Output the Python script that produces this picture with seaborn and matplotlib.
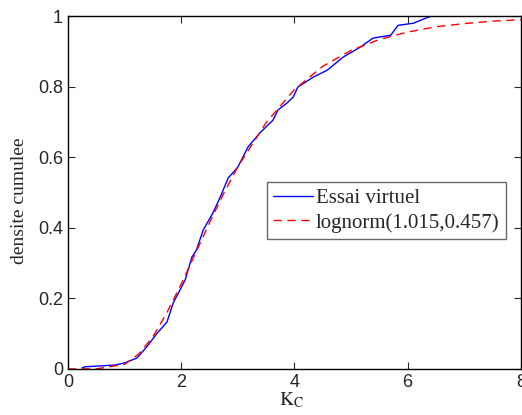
import numpy as np
import pandas as pd
import matplotlib
matplotlib.use("Agg")
import matplotlib.pyplot as plt
import seaborn as sns

essai_x = [0.25, 0.30, 0.83, 1.00, 1.22, 1.39, 1.57, 1.75, 1.86, 2.07, 2.19, 2.27,
           2.39, 2.56, 2.69, 2.83, 3.00, 3.18, 3.39, 3.62, 3.71, 3.87, 3.98, 4.06,
           4.33, 4.58, 4.86, 5.16, 5.39, 5.70, 5.83, 6.10, 6.36, 6.43, 6.91]
essai_y = [0.003, 0.006, 0.011, 0.017, 0.031, 0.062, 0.100, 0.133, 0.187, 0.252, 0.317, 0.337,
           0.394, 0.442, 0.487, 0.541, 0.572, 0.629, 0.669, 0.705, 0.734, 0.754, 0.771, 0.799,
           0.827, 0.847, 0.884, 0.912, 0.938, 0.946, 0.974, 0.980, 0.997, 1.000, 1.000]

# fitted lognormal curve
fit_x = [0.0, 0.5, 1.0, 1.25, 1.5, 1.75, 2.0, 2.25, 2.5, 2.75, 3.0, 3.5, 4.0,
         4.5, 5.0, 5.5, 6.0, 6.5, 7.0, 7.5, 8.0]
fit_y = [0.0, 0.0001, 0.013, 0.042, 0.091, 0.160, 0.240, 0.327, 0.414, 0.497, 0.573,
         0.698, 0.792, 0.858, 0.903, 0.934, 0.955, 0.970, 0.979, 0.986, 0.990]

sns.set_style("ticks")
plt.rcParams.update({
    "font.family": ["Liberation Sans", "DejaVu Sans"],
    "mathtext.fontset": "stix",
    "xtick.direction": "in",
    "ytick.direction": "in",
    "xtick.top": True,
    "ytick.right": True,
})

essai = pd.DataFrame({"x": essai_x, "y": essai_y})
fit = pd.DataFrame({"x": fit_x, "y": fit_y})

fig = plt.figure(figsize=(5.22, 4.15), dpi=100)
ax = fig.add_axes([0.130, 0.111, 0.868, 0.850])

sns.lineplot(data=essai, x="x", y="y", ax=ax, color="blue", linewidth=1,
             label="Essai virtuel")
sns.lineplot(data=fit, x="x", y="y", ax=ax, color="red", linewidth=1,
             linestyle=(0, (6, 4)), label="lognorm(1.015,0.457)")

ax.set_xlim(0, 8)
ax.set_ylim(0, 1)
ax.set_xticks([0, 2, 4, 6, 8])
ax.set_yticks([0, 0.2, 0.4, 0.6, 0.8, 1])
ax.set_xticklabels(["0", "2", "4", "6", "8"])
ax.set_yticklabels(["0", "0.2", "0.4", "0.6", "0.8", "1"])
ax.tick_params(labelsize=13, length=5, width=0.8)
for s in ax.spines.values():
    s.set_linewidth(1.0)
    s.set_color("black")

ax.set_xlabel(r"$\mathrm{K}_\mathrm{C}$", fontsize=14, va="baseline")
ax.xaxis.set_label_coords(0.494, -0.102)
ax.set_ylabel("densite cumulee", fontsize=14, family="Liberation Serif", va="center")
ax.yaxis.set_label_coords(-0.106, 0.476)

leg = ax.legend(loc="upper left", bbox_to_anchor=(0.439, 0.530),
                prop={"family": "Liberation Serif", "size": 15},
                frameon=True, fancybox=False, edgecolor="#444444",
                handlelength=1.9, handletextpad=0.15, borderpad=0.3,
                labelspacing=0.25, borderaxespad=0)
leg.get_frame().set_linewidth(1.0)

plt.savefig("out.png", dpi=100)
plt.close()
